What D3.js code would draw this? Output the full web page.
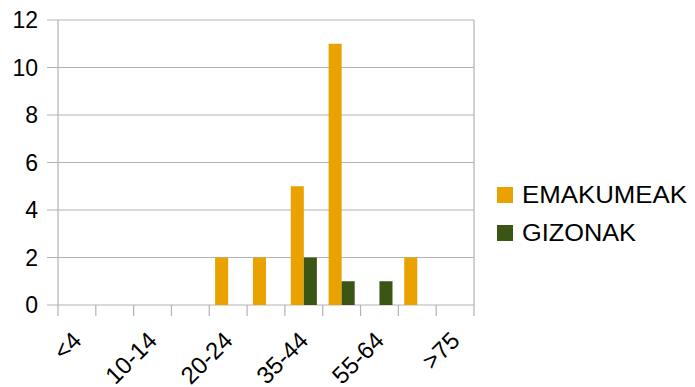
<!DOCTYPE html>
<html>
<head>
<meta charset="utf-8">
<script src="https://cdn.jsdelivr.net/npm/d3@7"></script>
<style>
  html, body { margin: 0; padding: 0; background: #fff; }
  text { font-family: "Liberation Sans", Arial, sans-serif; fill: #000; }
</style>
</head>
<body>
<svg id="chart" width="695" height="387"></svg>
<script>
const categories = ["<4", "5-9", "10-14", "15-19", "20-24", "25-34", "35-44", "45-54", "55-64", "65-74", ">75"];
const seriesNames = ["EMAKUMEAK", "GIZONAK"];
const emakumeak = [0, 0, 0, 0, 2, 2, 5, 11, 0, 2, 0];
const gizonak   = [0, 0, 0, 0, 0, 0, 2, 1, 1, 0, 0];
const yTicks = [0, 2, 4, 6, 8, 10, 12];
const shownLabels = ["<4", "10-14", "20-24", "35-44", "55-64", ">75"];
const colors = ["#E9A200", "#3B5614"];

const svg = d3.select("#chart");
const pLeft = 58, pRight = 474, pTop = 20, pBottom = 305;

const x = d3.scaleBand().domain(categories).range([pLeft, pRight]).paddingInner(0.31).paddingOuter(0.155);
const xs = d3.scaleBand().domain(seriesNames).range([0, x.bandwidth()]).padding(0);
const y = d3.scaleLinear().domain([0, 12]).range([pBottom, pTop]);

// gridlines + y ticks
svg.append("g").selectAll("line").data(yTicks).join("line")
  .attr("x1", pLeft - 11).attr("x2", pRight)
  .attr("y1", d => y(d)).attr("y2", d => y(d))
  .attr("stroke", "#b3b3b3").attr("stroke-width", 1.2);

// y labels
svg.append("g").selectAll("text").data(yTicks).join("text")
  .attr("x", 38).attr("y", d => y(d)).attr("dy", "0.36em")
  .attr("text-anchor", "end").attr("font-size", 23)
  .text(d => d);

// x ticks at category boundaries
const step = x.step();
const bounds = d3.range(categories.length + 1).map(i => pLeft + i * step);
svg.append("g").selectAll("line").data(bounds).join("line")
  .attr("x1", d => d).attr("x2", d => d)
  .attr("y1", pBottom).attr("y2", pBottom + 11)
  .attr("stroke", "#b3b3b3").attr("stroke-width", 1.2);

// left axis and right border
svg.append("line").attr("x1", pLeft).attr("x2", pLeft).attr("y1", pTop).attr("y2", pBottom)
  .attr("stroke", "#b3b3b3").attr("stroke-width", 1.2);
svg.append("line").attr("x1", pRight).attr("x2", pRight).attr("y1", pTop).attr("y2", pBottom)
  .attr("stroke", "#b3b3b3").attr("stroke-width", 1.2);

// bars
const data = categories.map((c, i) => ({c, vals: [emakumeak[i], gizonak[i]]}));
const g = svg.append("g");
data.forEach(d => {
  d.vals.forEach((v, si) => {
    if (v > 0) {
      g.append("rect")
        .attr("x", x(d.c) + xs(seriesNames[si]))
        .attr("width", xs.bandwidth())
        .attr("y", y(v))
        .attr("height", y(0) - y(v))
        .attr("fill", colors[si]);
    }
  });
});

// x labels
svg.append("g").selectAll("text").data(shownLabels).join("text")
  .attr("transform", d => `translate(${x(d) + x.bandwidth() / 2 + 6},${pBottom + 37}) rotate(-45)`)
  .attr("text-anchor", "end").attr("font-size", 24)
  .text(d => d);

// legend
const legend = svg.append("g");
const legW = [165, 114];
seriesNames.forEach((s, i) => {
  legend.append("rect").attr("x", 497).attr("y", 187 + i * 38).attr("width", 16).attr("height", 16)
    .attr("fill", colors[i]);
  legend.append("text").attr("x", 522).attr("y", 203 + i * 38)
    .attr("font-size", 23)
    .attr("textLength", legW[i]).attr("lengthAdjust", "spacingAndGlyphs")
    .text(s);
});
</script>
</body>
</html>
